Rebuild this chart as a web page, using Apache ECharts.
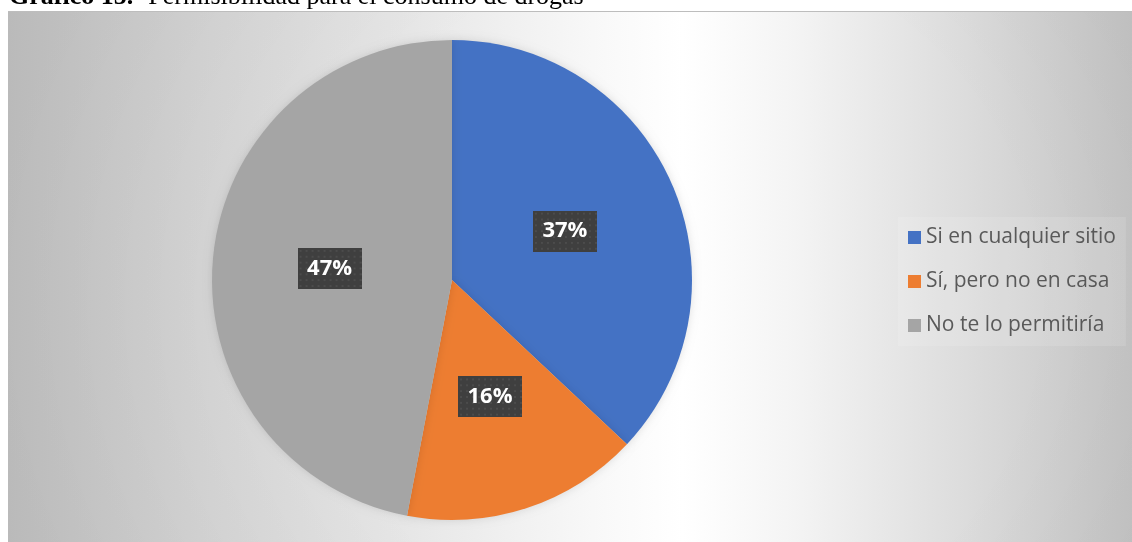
<!DOCTYPE html>
<html>
<head>
<meta charset="utf-8">
<style>
  html, body { margin: 0; padding: 0; background: #ffffff; }
  #chart { width: 1132px; height: 542px; }
</style>
<script src="https://cdn.jsdelivr.net/npm/echarts@6/dist/echarts.min.js"></script>
</head>
<body>
<div id="chart"></div>
<script>
// Survey answers and their shares (%)
const categories = ['Si en cualquier sitio', 'Sí, pero no en casa', 'No te lo permitiría'];
const shares = [37, 16, 47];
const sliceColors = ['#4472C4', '#ED7D31', '#A5A5A5'];

// Dotted dark fill for the value tags
function dottedFill(w, h) {
  const c = document.createElement('canvas');
  c.width = w; c.height = h;
  const g = c.getContext('2d');
  g.fillStyle = '#3f3f3f';
  g.fillRect(0, 0, w, h);
  g.fillStyle = '#4c4c4c';
  for (let y = 2; y < h; y += 6) {
    for (let x = 2; x < w; x += 6) {
      g.fillRect(x, y, 2, 2);
    }
  }
  return c;
}
const tagFill = dottedFill(64, 42);

const chart = echarts.init(document.getElementById('chart'), null, { renderer: 'canvas' });

chart.setOption({
  animation: false,
  graphic: [
    {
      type: 'rect',
      z: -10,
      silent: true,
      shape: { x: 8, y: 11, width: 1124, height: 531 },
      style: {
        fill: {
          type: 'linear', x: 0, y: 0, x2: 1, y2: 0,
          colorStops: [
            { offset: 0, color: '#c4c4c4' },
            { offset: 0.17, color: '#d6d6d6' },
            { offset: 0.35, color: '#e6e6e6' },
            { offset: 0.52, color: '#f8f8f8' },
            { offset: 0.6, color: '#ffffff' },
            { offset: 0.7, color: '#f4f4f4' },
            { offset: 0.84, color: '#dedede' },
            { offset: 1, color: '#c4c4c4' }
          ]
        }
      }
    },
    {
      type: 'rect',
      z: -9,
      silent: true,
      shape: { x: 8, y: 11, width: 1124, height: 531 },
      style: {
        fill: {
          type: 'radial', x: 0.6, y: 0.55, r: 1.3,
          colorStops: [
            { offset: 0, color: 'rgba(0,0,0,0)' },
            { offset: 0.5, color: 'rgba(0,0,0,0)' },
            { offset: 1, color: 'rgba(0,0,0,0.05)' }
          ]
        }
      }
    },
    {
      type: 'line',
      z: -8,
      silent: true,
      shape: { x1: 8, y1: 11.5, x2: 1132, y2: 11.5 },
      style: { stroke: '#bdbdbd', lineWidth: 1 }
    },
    {
      type: 'text',
      x: 9,
      y: -3,
      silent: true,
      style: {
        text: '{b|Gráfico 15.-} {r|Permisibilidad para el consumo de drogas}',
        verticalAlign: 'middle',
        rich: {
          b: { fontFamily: 'Liberation Serif', fontWeight: 'bold', fontSize: 26, fill: '#000000' },
          r: { fontFamily: 'Liberation Serif', fontSize: 26, fill: '#000000' }
        },
        fontFamily: 'Liberation Serif',
        fontSize: 26,
        fill: '#000000'
      }
    }
  ],
  legend: {
    orient: 'vertical',
    left: 898,
    top: 217,
    padding: [10, 10, 10, 10],
    backgroundColor: 'rgba(255,255,255,0.12)',
    itemWidth: 13,
    itemHeight: 13,
    itemGap: 23,
    icon: 'rect',
    data: categories,
    textStyle: {
      fontFamily: 'Open Sans',
      fontSize: 21,
      lineHeight: 21,
      color: '#595959',
      padding: [0, 0, 0, 0]
    }
  },
  series: [
    {
      type: 'pie',
      center: [452, 280],
      radius: 240,
      startAngle: 90,
      clockwise: true,
      avoidLabelOverlap: false,
      silent: true,
      color: sliceColors,
      itemStyle: {
        shadowBlur: 8,
        shadowColor: 'rgba(0,0,0,0.12)'
      },
      label: {
        show: true,
        position: 'inside',
        formatter: '{c}%',
        fontFamily: 'Open Sans',
        fontWeight: 'bold',
        fontSize: 22,
        lineHeight: 24,
        color: '#ffffff',
        backgroundColor: { image: tagFill },
        width: 46,
        height: 24,
        align: 'center',
        padding: [9, 9, 8, 9],
        shadowColor: 'rgba(0,0,0,0.5)',
        shadowBlur: 7,
        shadowOffsetX: 4,
        shadowOffsetY: 4
      },
      labelLine: { show: false },
      data: categories.map((name, i) => ({ name: name, value: shares[i] }))
    }
  ]
});
</script>
</body>
</html>
